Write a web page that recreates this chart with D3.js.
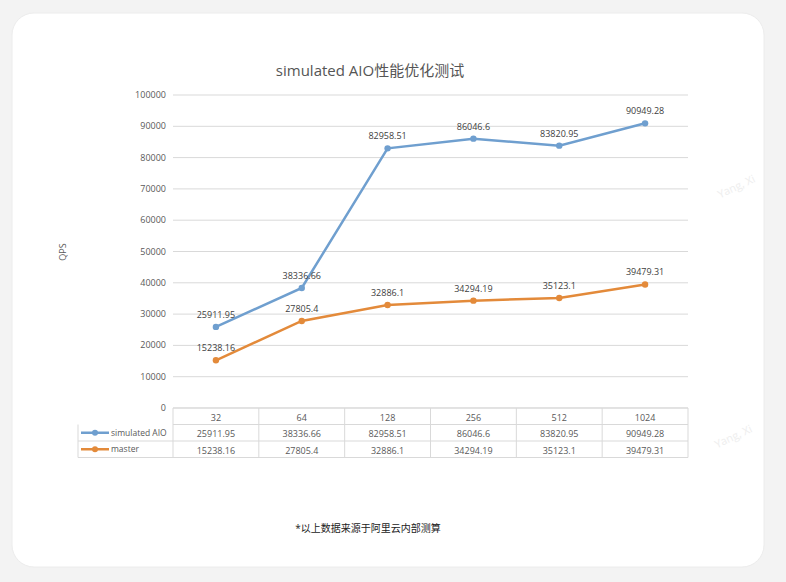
<!DOCTYPE html>
<html>
<head>
<meta charset="utf-8">
<script src="https://cdn.jsdelivr.net/npm/d3@7"></script>
<style>
  body { margin: 0; background: #f3f3f3; }
  text { font-family: "Open Sans", "Noto Sans CJK SC", sans-serif; }
</style>
</head>
<body>
<script>
// chart values
var categories = ["32", "64", "128", "256", "512", "1024"];
var aioValues = [25911.95, 38336.66, 82958.51, 86046.6, 83820.95, 90949.28];
var masterValues = [15238.16, 27805.4, 32886.1, 34294.19, 35123.1, 39479.31];
var seriesNames = ["simulated AIO", "master"];
var seriesColors = ["#6f9fcf", "#e38a3a"];
var yTicks = [0, 10000, 20000, 30000, 40000, 50000, 60000, 70000, 80000, 90000, 100000];

var W = 786, H = 582;
var svg = d3.select("body").append("svg").attr("width", W).attr("height", H);

// card
svg.append("rect").attr("x", 12).attr("y", 13).attr("width", 752).attr("height", 554)
  .attr("rx", 22).attr("fill", "#fff").attr("stroke", "#ececec");

var plotL = 173, plotR = 688, plotT = 95, plotB = 408;
var x = d3.scaleBand().domain(categories).range([plotL, plotR]);
var y = d3.scaleLinear().domain([0, 100000]).range([plotB, plotT]);

svg.append("text").attr("x", 370).attr("y", 76).attr("text-anchor", "middle")
  .attr("font-size", 15).attr("fill", "#555").text("simulated AIO性能优化测试");

// grid + y labels
yTicks.forEach(function (t) {
  svg.append("line").attr("x1", plotL).attr("x2", plotR).attr("y1", y(t)).attr("y2", y(t))
    .attr("stroke", "#d9d9d9");
  svg.append("text").attr("x", 166).attr("y", y(t) + 3).attr("text-anchor", "end")
    .attr("font-size", 9).attr("fill", "#595959").text(t);
});
svg.append("text").attr("transform", "translate(66,252) rotate(-90)").attr("text-anchor", "middle")
  .attr("font-size", 9).attr("fill", "#595959").text("QPS");

// table
var rowH = 16.5, tLeft = 78;
var rows = [aioValues, masterValues];
var g = svg.append("g").attr("stroke", "#d9d9d9").attr("fill", "none");
g.append("line").attr("x1", plotL).attr("x2", plotR).attr("y1", plotB).attr("y2", plotB);
for (var r = 1; r <= 3; r++) {
  g.append("line").attr("x1", r === 1 ? plotL : tLeft).attr("x2", plotR)
    .attr("y1", plotB + r * rowH).attr("y2", plotB + r * rowH);
}
g.append("line").attr("x1", tLeft).attr("x2", tLeft).attr("y1", plotB + rowH).attr("y2", plotB + 3 * rowH);
categories.forEach(function (c, i) {
  g.append("line").attr("x1", x(c)).attr("x2", x(c)).attr("y1", plotB).attr("y2", plotB + 3 * rowH);
  svg.append("text").attr("x", x(c) + x.bandwidth() / 2).attr("y", plotB + rowH - 4)
    .attr("text-anchor", "middle").attr("font-size", 9).attr("fill", "#595959").text(c);
  rows.forEach(function (vals, k) {
    svg.append("text").attr("x", x(c) + x.bandwidth() / 2).attr("y", plotB + (k + 2) * rowH - 4)
      .attr("text-anchor", "middle").attr("font-size", 9).attr("fill", "#595959").text(vals[i]);
  });
});
g.append("line").attr("x1", plotR).attr("x2", plotR).attr("y1", plotB).attr("y2", plotB + 3 * rowH);
seriesNames.forEach(function (n, k) {
  var yy = plotB + (k + 1.5) * rowH;
  svg.append("line").attr("x1", 81).attr("x2", 109).attr("y1", yy).attr("y2", yy)
    .attr("stroke", seriesColors[k]).attr("stroke-width", 2.5);
  svg.append("circle").attr("cx", 95).attr("cy", yy).attr("r", 3).attr("fill", seriesColors[k]);
  svg.append("text").attr("x", 111).attr("y", yy + 3).attr("font-size", 8.5).attr("fill", "#595959").text(n);
});

// lines
var cx = function (i) { return x(categories[i]) + x.bandwidth() / 2; };
var line = d3.line().x(function (d, i) { return cx(i); }).y(function (d) { return y(d); });
rows.forEach(function (vals, k) {
  svg.append("path").datum(vals).attr("d", line).attr("fill", "none")
    .attr("stroke", seriesColors[k]).attr("stroke-width", 2.5);
  svg.selectAll(null).data(vals).enter().append("circle")
    .attr("cx", function (d, i) { return cx(i); }).attr("cy", y).attr("r", 3.2).attr("fill", seriesColors[k]);
  svg.selectAll(null).data(vals).enter().append("text")
    .attr("x", function (d, i) { return cx(i); }).attr("y", function (d) { return y(d) - 9; })
    .attr("text-anchor", "middle").attr("font-size", 9).attr("fill", "#404040")
    .text(function (d) { return d; });
});

// watermarks
[[738, 190], [735, 440]].forEach(function (p) {
  svg.append("text").attr("transform", "translate(" + p[0] + "," + p[1] + ") rotate(-25)")
    .attr("text-anchor", "middle").attr("font-size", 11).attr("fill", "#eeeeee").text("Yang, Xi");
});

svg.append("text").attr("x", 368).attr("y", 532).attr("text-anchor", "middle")
  .attr("font-size", 10).attr("fill", "#222").text("*以上数据来源于阿里云内部测算");
</script>
</body>
</html>
